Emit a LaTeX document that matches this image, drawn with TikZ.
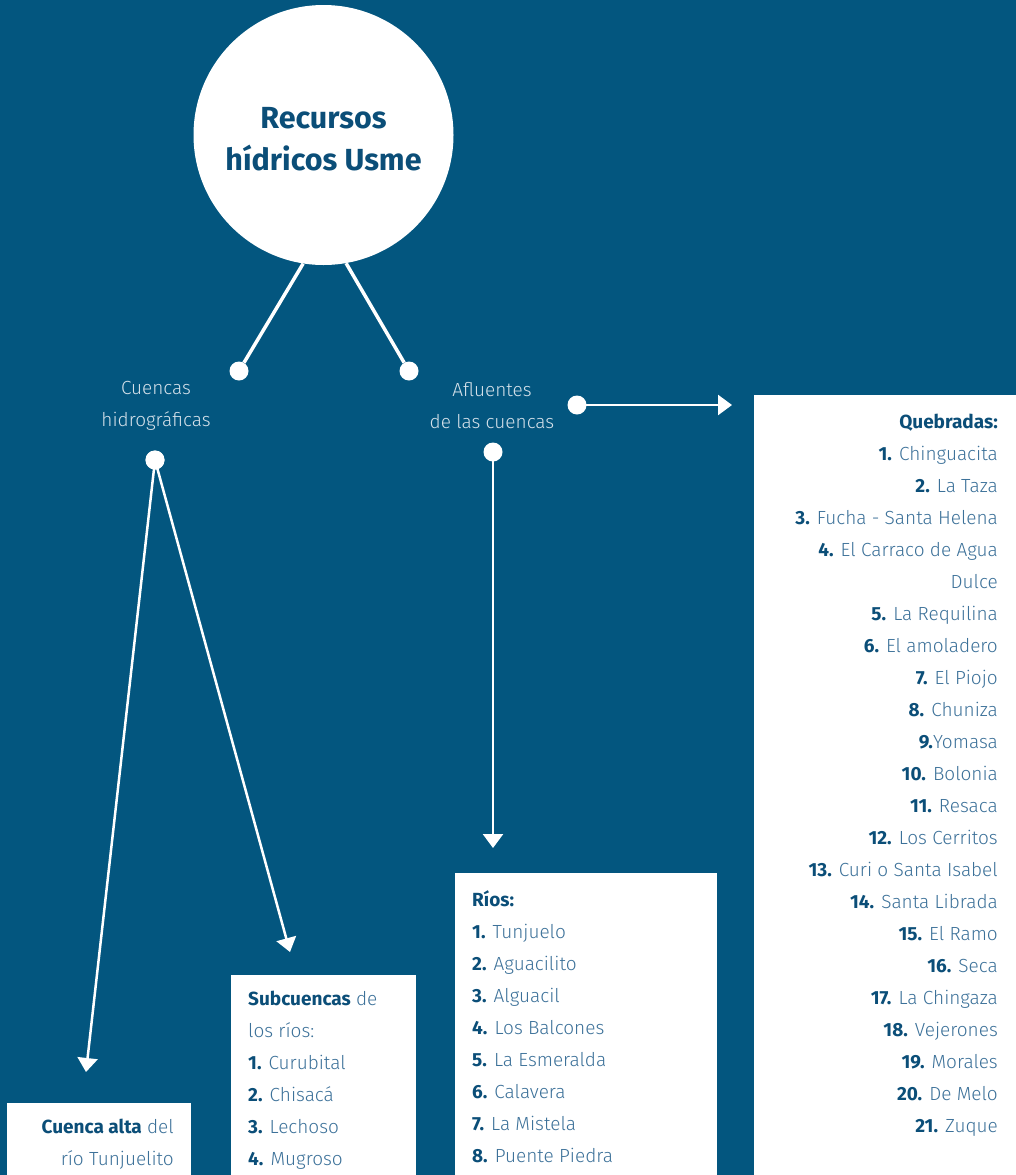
\documentclass[tikz,border=0pt]{standalone}
\usepackage{fontspec}
\setmainfont{Fira Sans}[UprightFont=* Light, BoldFont=* Bold]
\usetikzlibrary{arrows.meta}
\definecolor{bgblue}{HTML}{03567F}
\definecolor{inkdark}{HTML}{0B4E78}
\definecolor{inklight}{HTML}{3C7199}
\definecolor{labelgrey}{HTML}{D5E1EA}
\newcommand\itemno[1]{\textbf{\color{inkdark}#1}}
\begin{document}
\begin{tikzpicture}[x=1pt,y=-1pt,
  dot/.style={circle,fill=white,inner sep=0pt,minimum size=19pt},
  link/.style={draw=white,line width=3.5pt},
  arrowlink/.style={draw=white,line width=2.5pt,-{Triangle[width=20pt,length=14pt]}},
  panel/.style={fill=white,inner sep=0pt,anchor=north west},
  entry/.style={inner sep=0pt,font=\fontsize{19}{19}\selectfont,text=inklight},
  branch/.style={inner sep=0pt,align=center,text=labelgrey,font=\fontsize{19}{32}\selectfont},
  hub/.style={circle,fill=white,inner sep=0pt,minimum size=260pt},
  hubtext/.style={inner sep=0pt,align=center,text=inkdark,
    font=\fontsize{30.5}{42}\selectfont\bfseries}]
% background and page size
\fill[bgblue] (0,0) rectangle (1016,1175);
\useasboundingbox (0,0) rectangle (1016,1175);

% central topic
\node[hub] (title) at (323.5,135) {};
\node[hubtext] (titletext) at (323.5,139) {Recursos\\hídricos Usme};

% first-level branches
\node[dot] (dotL) at (239,371) {};
\node[dot] (dotR) at (409,371) {};
\draw[link] (title.-99) -- (dotL);
\draw[link] (title.-80.5) -- (dotR);

\node[branch] (cuencas) at (156,406) {Cuencas\\hidrográficas};
\node[branch] (afluentes) at (492,406) {Afluentes\\de las cuencas};

\node[dot] (dotCu) at (155,460) {};
\node[dot] (dotAfD) at (493,452) {};
\node[dot] (dotAfR) at (577,405) {};

% white panels
\node[panel,minimum width=184pt,minimum height=72pt] (alta) at (7,1103) {};
\node[panel,minimum width=185pt,minimum height=200pt] (sub) at (231,975) {};
\node[panel,minimum width=262pt,minimum height=302pt] (rios) at (455,873) {};
\node[panel,minimum width=262pt,minimum height=780pt] (queb) at (754,395) {};

% arrow tips
\coordinate (tipAlta) at (86,1072);
\coordinate (tipSub) at (290,952);
\coordinate (tipRios) at (493,848);
\coordinate (tipQueb) at (732,405);

\draw[arrowlink] (dotCu.center) -- (tipAlta);
\draw[arrowlink] (dotCu.center) -- (tipSub);
\draw[arrowlink] (dotAfD.center) -- (tipRios);
\draw[arrowlink] (dotAfR.center) -- (tipQueb);
\node[dot] at (dotCu) {};

% Cuenca alta
\node[entry,anchor=base east] (alta1) at (174,1133) {\itemno{Cuenca alta} del};
\node[entry,anchor=base east] (alta2) at (174,1165) {río Tunjuelito};

% Subcuencas
\foreach \t [count=\i from 0] in {{\itemno{Subcuencas} de},{los ríos:},
  {\itemno{1.} Curubital},{\itemno{2.} Chisacá},{\itemno{3.} Lechoso},{\itemno{4.} Mugroso}}
  \node[entry,anchor=base west] (s\i) at (248,1005+32*\i) {\t};

% Ríos
\foreach \t [count=\i from 0] in {{\itemno{Ríos:}},{\itemno{1.} Tunjuelo},{\itemno{2.} Aguacilito},
  {\itemno{3.} Alguacil},{\itemno{4.} Los Balcones},{\itemno{5.} La Esmeralda},
  {\itemno{6.} Calavera},{\itemno{7.} La Mistela},{\itemno{8.} Puente Piedra}}
  \node[entry,anchor=base west] (r\i) at (472,906+32*\i) {\t};

% Quebradas
\foreach \t [count=\i from 0] in {{\itemno{Quebradas:}},{\itemno{1.} Chinguacita},{\itemno{2.} La Taza},
  {\itemno{3.} Fucha - Santa Helena},{\itemno{4.} El Carraco de Agua},{Dulce},
  {\itemno{5.} La Requilina},{\itemno{6.} El amoladero},{\itemno{7.} El Piojo},
  {\itemno{8.} Chuniza},{\itemno{9.}Yomasa},{\itemno{10.} Bolonia},{\itemno{11.} Resaca},
  {\itemno{12.} Los Cerritos},{\itemno{13.} Curi o Santa Isabel},{\itemno{14.} Santa Librada},
  {\itemno{15.} El Ramo},{\itemno{16.} Seca},{\itemno{17.} La Chingaza},
  {\itemno{18.} Vejerones},{\itemno{19.} Morales},{\itemno{20.} De Melo},{\itemno{21.} Zuque}}
  \node[entry,anchor=base east] (q\i) at (998,428+32*\i) {\t};
\end{tikzpicture}
\end{document}
